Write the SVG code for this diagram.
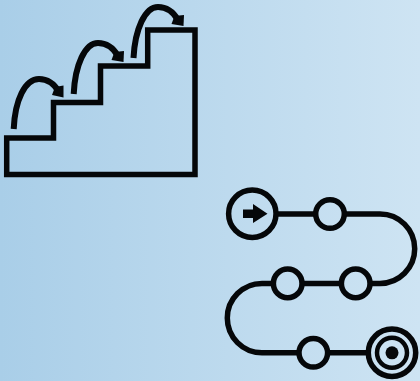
<svg xmlns="http://www.w3.org/2000/svg" width="420" height="381" viewBox="0 0 420 381">
<defs>
<linearGradient id="bg" gradientUnits="userSpaceOnUse" x1="0" y1="0" x2="420" y2="0"><stop offset="0" stop-color="#a9cee8"/><stop offset="1" stop-color="#cee4f3"/></linearGradient>
</defs>
<style>
.l{fill:none;stroke:#050709;stroke-width:5.500;}
.n{fill:url(#bg);stroke:#050709;stroke-width:5.500;}
.h{fill:#050709;stroke:none;}
.a{fill:none;stroke:#050709;stroke-width:6;}
</style>
<rect width="420" height="381" fill="url(#bg)"/>
<g id="stairs"><path class="l" d="M6.700 174.500V138H53.500V102.500H100.500V66H147.700V30H195V174.500Z"/></g>
<g id="connectors">
<g id="hops">
<path class="a" d="M13.700 129C15 100 25 79 39 79C49 79 55 85 59 92"/>
<path class="h" d="M52 95L55 87L63.500 85.500L63.500 97.500Z"/>
<path class="a" d="M73.700 94C75 65 85 43 98 43C108 43 114 49 118 56"/>
<path class="h" d="M111.500 60L114.500 52L124 51L123.500 62Z"/>
<path class="a" d="M133.500 58C135 29 145 7 158 7C168 7 174 13 178 20"/>
<path class="h" d="M171.500 24L174.500 16L184 15L183.500 26Z"/>
</g>
<path id="route" class="l" d="M275 214H380A34.700 34.700 0 0 1 380 283.400H262A34.700 34.700 0 0 0 262 352.800H366"/>
</g>
<g id="start"><circle class="n" cx="252.300" cy="213.700" r="23.700"/><path class="h" d="M243 209.500H253V204L267.500 213.700L253 223V218H243Z"/></g>
<g id="node1"><circle class="n" cx="330" cy="214" r="14.300"/></g>
<g id="node2"><circle class="n" cx="355.700" cy="283.400" r="14.300"/></g>
<g id="node3"><circle class="n" cx="287.700" cy="283.400" r="14.300"/></g>
<g id="node4"><circle class="n" cx="313.300" cy="352.800" r="14.300"/></g>
<g id="target"><circle class="n" cx="392" cy="352.800" r="23.700"/><circle class="n" style="stroke-width:4.500" cx="392" cy="352.800" r="15"/><circle class="h" cx="392" cy="352.800" r="6.500"/></g>
</svg>
